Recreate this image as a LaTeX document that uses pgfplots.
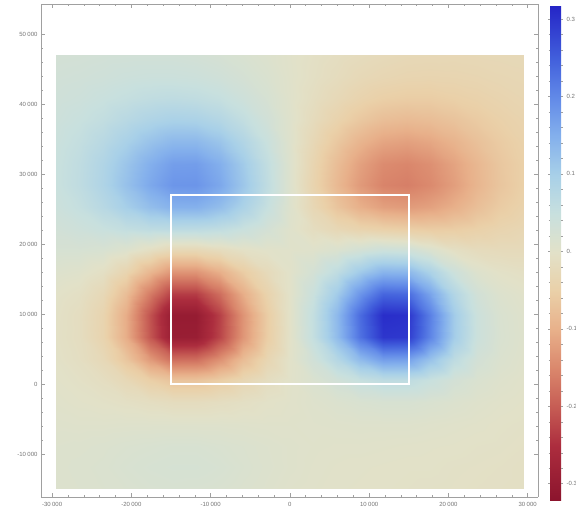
\documentclass[border=0pt]{standalone}
\usepackage{pgfplots}
\pgfplotsset{compat=1.18}
\usepackage{fontspec}
\setmainfont{Liberation Sans}
\definecolor{framegray}{RGB}{160,160,160}
\definecolor{labgray}{RGB}{115,115,115}
\newcommand{\ts}{\kern1.4pt}
\pgfplotsset{colormap={thermo}{
  rgb255(0pt)=(140,20,45); rgb255(7pt)=(172,45,62); rgb255(12pt)=(198,92,84);
  rgb255(17pt)=(218,135,108); rgb255(22pt)=(232,176,138); rgb255(27pt)=(234,208,168);
  rgb255(32pt)=(226,225,200); rgb255(37pt)=(200,224,222); rgb255(42pt)=(168,208,232);
  rgb255(47pt)=(132,176,236); rgb255(52pt)=(98,138,232); rgb255(57pt)=(66,96,220);
  rgb255(64pt)=(36,36,198)}}
\begin{document}
\begin{tikzpicture}
\begin{axis}[
  at={(41pt,17pt)}, anchor=south west,
  scale only axis, width=497pt, height=493pt,
  view={0}{90},
  xmin=-31400, xmax=31300, ymin=-16150, ymax=54300,
  scaled ticks=false,
  xtick={-30000,-20000,-10000,0,10000,20000,30000},
  xticklabels={-30\ts000,-20\ts000,-10\ts000,0,10\ts000,20\ts000,30\ts000},
  ytick={-10000,0,10000,20000,30000,40000,50000},
  yticklabels={-10\ts000,0,10\ts000,20\ts000,30\ts000,40\ts000,50\ts000},
  ztick=\empty, hide z axis,
  minor x tick num=4, minor y tick num=4,
  tick align=inside, xtick pos=both, ytick pos=both,
  major tick length=4pt, minor tick length=2pt,
  axis line style={framegray, line width=0.6pt},
  tick style={framegray, line width=0.5pt},
  ticklabel style={font=\fontsize{6}{7}\selectfont, text=labgray},
  xticklabel style={yshift=-2pt},
  colormap name=thermo,
  point meta min=-0.321, point meta max=0.318,
  colorbar,
  colorbar style={
    at={(parent axis.north east)}, anchor=north west,
    xshift=3.5pt, yshift=-1pt,
    scale only axis, width=11pt, height=495pt,
    scaled ticks=false,
    ytick={-0.3,-0.2,-0.1,0,0.1,0.2,0.3},
    yticklabels={-0.3,-0.2,-0.1,0.,0.1,0.2,0.3},
    minor y tick num=4,
    tick align=outside,
    major tick length=2pt, minor tick length=1.5pt,
    axis line style={draw=none},
    tick style={framegray, line width=0.5pt},
    yticklabel style={font=\fontsize{6}{7}\selectfont, text=labgray, anchor=west, inner sep=0pt, xshift=3.5pt},
  },
]
\addplot3[surf, shader=interp, mesh/cols=21] coordinates {
(-29500,-15000,0.010) (-26550,-15000,0.011) (-23600,-15000,0.013) (-20650,-15000,0.015) (-17700,-15000,0.018) (-14750,-15000,0.019) (-11800,-15000,0.018) (-8850,-15000,0.016) (-5900,-15000,0.012) (-2950,-15000,0.008) (0,-15000,0.004) (2950,-15000,0.002) (5900,-15000,0.000) (8850,-15000,-0.001) (11800,-15000,-0.002) (14750,-15000,-0.003) (17700,-15000,-0.004) (20650,-15000,-0.005) (23600,-15000,-0.006) (26550,-15000,-0.007) (29500,-15000,-0.008)
(-29500,-11900,0.010) (-26550,-11900,0.012) (-23600,-11900,0.014) (-20650,-11900,0.018) (-17700,-11900,0.021) (-14750,-11900,0.023) (-11800,-11900,0.023) (-8850,-11900,0.020) (-5900,-11900,0.015) (-2950,-11900,0.010) (0,-11900,0.006) (2950,-11900,0.003) (5900,-11900,0.001) (8850,-11900,0.000) (11800,-11900,-0.001) (14750,-11900,-0.002) (17700,-11900,-0.002) (20650,-11900,-0.004) (23600,-11900,-0.005) (26550,-11900,-0.006) (29500,-11900,-0.008)
(-29500,-8800,0.009) (-26550,-8800,0.010) (-23600,-8800,0.012) (-20650,-8800,0.015) (-17700,-8800,0.017) (-14750,-8800,0.019) (-11800,-8800,0.019) (-8850,-8800,0.016) (-5900,-8800,0.013) (-2950,-8800,0.009) (0,-8800,0.006) (2950,-8800,0.004) (5900,-8800,0.003) (8850,-8800,0.003) (11800,-8800,0.002) (14750,-8800,0.001) (17700,-8800,0.000) (20650,-8800,-0.001) (23600,-8800,-0.003) (26550,-8800,-0.004) (29500,-8800,-0.006)
(-29500,-5700,0.006) (-26550,-5700,0.005) (-23600,-5700,0.005) (-20650,-5700,0.006) (-17700,-5700,0.006) (-14750,-5700,0.006) (-11800,-5700,0.006) (-8850,-5700,0.006) (-5900,-5700,0.005) (-2950,-5700,0.004) (0,-5700,0.004) (2950,-5700,0.005) (5900,-5700,0.006) (8850,-5700,0.007) (11800,-5700,0.007) (14750,-5700,0.007) (17700,-5700,0.005) (20650,-5700,0.003) (23600,-5700,0.001) (26550,-5700,-0.002) (29500,-5700,-0.004)
(-29500,-2600,0.003) (-26550,-2600,0.000) (-23600,-2600,-0.003) (-20650,-2600,-0.007) (-17700,-2600,-0.012) (-14750,-2600,-0.017) (-11800,-2600,-0.017) (-8850,-2600,-0.013) (-5900,-2600,-0.008) (-2950,-2600,-0.002) (0,-2600,0.002) (2950,-2600,0.007) (5900,-2600,0.012) (8850,-2600,0.017) (11800,-2600,0.020) (14750,-2600,0.020) (17700,-2600,0.016) (20650,-2600,0.011) (23600,-2600,0.006) (26550,-2600,0.002) (29500,-2600,-0.001)
(-29500,500,0.000) (-26550,500,-0.005) (-23600,500,-0.013) (-20650,500,-0.029) (-17700,500,-0.053) (-14750,500,-0.072) (-11800,500,-0.072) (-8850,500,-0.056) (-5900,500,-0.034) (-2950,500,-0.014) (0,500,0.001) (2950,500,0.015) (5900,500,0.032) (8850,500,0.051) (11800,500,0.064) (14750,500,0.064) (17700,500,0.048) (20650,500,0.028) (23600,500,0.015) (26550,500,0.007) (29500,500,0.002)
(-29500,3600,-0.003) (-26550,3600,-0.011) (-23600,3600,-0.028) (-20650,3600,-0.068) (-17700,3600,-0.130) (-14750,3600,-0.183) (-11800,3600,-0.182) (-8850,3600,-0.140) (-5900,3600,-0.083) (-2950,3600,-0.036) (0,3600,0.000) (2950,3600,0.033) (5900,3600,0.079) (8850,3600,0.134) (11800,3600,0.174) (14750,3600,0.172) (17700,3600,0.122) (20650,3600,0.065) (23600,3600,0.029) (26550,3600,0.013) (29500,3600,0.005)
(-29500,6700,-0.005) (-26550,6700,-0.014) (-23600,6700,-0.041) (-20650,6700,-0.104) (-17700,6700,-0.207) (-14750,6700,-0.294) (-11800,6700,-0.293) (-8850,6700,-0.225) (-5900,6700,-0.133) (-2950,6700,-0.056) (0,6700,-0.001) (2950,6700,0.054) (5900,6700,0.131) (8850,6700,0.227) (11800,6700,0.297) (14750,6700,0.294) (17700,6700,0.205) (20650,6700,0.104) (23600,6700,0.042) (26550,6700,0.017) (29500,6700,0.007)
(-29500,9800,-0.004) (-26550,9800,-0.014) (-23600,9800,-0.040) (-20650,9800,-0.105) (-17700,9800,-0.211) (-14750,9800,-0.300) (-11800,9800,-0.300) (-8850,9800,-0.230) (-5900,9800,-0.136) (-2950,9800,-0.057) (0,9800,-0.001) (2950,9800,0.055) (5900,9800,0.135) (8850,9800,0.234) (11800,9800,0.307) (14750,9800,0.303) (17700,9800,0.211) (20650,9800,0.106) (23600,9800,0.042) (26550,9800,0.016) (29500,9800,0.006)
(-29500,12900,-0.001) (-26550,12900,-0.008) (-23600,12900,-0.029) (-20650,12900,-0.081) (-17700,12900,-0.165) (-14750,12900,-0.235) (-11800,12900,-0.235) (-8850,12900,-0.180) (-5900,12900,-0.105) (-2950,12900,-0.044) (0,12900,0.000) (2950,12900,0.044) (5900,12900,0.106) (8850,12900,0.184) (11800,12900,0.242) (14750,12900,0.238) (17700,12900,0.165) (20650,12900,0.082) (23600,12900,0.031) (26550,12900,0.010) (29500,12900,0.002)
(-29500,16000,0.009) (-26550,16000,0.005) (-23600,16000,-0.008) (-20650,16000,-0.039) (-17700,16000,-0.091) (-14750,16000,-0.135) (-11800,16000,-0.135) (-8850,16000,-0.102) (-5900,16000,-0.058) (-2950,16000,-0.023) (0,16000,0.001) (2950,16000,0.026) (5900,16000,0.062) (8850,16000,0.108) (11800,16000,0.142) (14750,16000,0.139) (17700,16000,0.093) (20650,16000,0.040) (23600,16000,0.009) (26550,16000,-0.003) (29500,16000,-0.008)
(-29500,19100,0.022) (-26550,19100,0.022) (-23600,19100,0.019) (-20650,19100,0.009) (-17700,19100,-0.011) (-14750,19100,-0.030) (-11800,19100,-0.031) (-8850,19100,-0.019) (-5900,19100,-0.006) (-2950,19100,0.001) (0,19100,0.003) (2950,19100,0.005) (5900,19100,0.014) (8850,19100,0.029) (11800,19100,0.041) (14750,19100,0.037) (17700,19100,0.015) (20650,19100,-0.008) (23600,19100,-0.019) (26550,19100,-0.022) (29500,19100,-0.022)
(-29500,22200,0.031) (-26550,22200,0.038) (-23600,22200,0.047) (-20650,22200,0.057) (-17700,22200,0.064) (-14750,22200,0.067) (-11800,22200,0.066) (-8850,22200,0.060) (-5900,22200,0.046) (-2950,22200,0.027) (0,22200,0.005) (2950,22200,-0.015) (5900,22200,-0.031) (8850,22200,-0.042) (11800,22200,-0.049) (14750,22200,-0.054) (17700,22200,-0.058) (20650,22200,-0.056) (23600,22200,-0.049) (26550,22200,-0.040) (29500,22200,-0.033)
(-29500,25300,0.041) (-26550,25300,0.053) (-23600,25300,0.074) (-20650,25300,0.100) (-17700,25300,0.127) (-14750,25300,0.146) (-11800,25300,0.147) (-8850,25300,0.127) (-5900,25300,0.092) (-2950,25300,0.051) (0,25300,0.008) (2950,25300,-0.032) (5900,25300,-0.070) (8850,25300,-0.101) (11800,25300,-0.121) (14750,25300,-0.127) (17700,25300,-0.119) (20650,25300,-0.101) (23600,25300,-0.078) (26550,25300,-0.058) (29500,25300,-0.044)
(-29500,28400,0.046) (-26550,28400,0.062) (-23600,28400,0.087) (-20650,28400,0.122) (-17700,28400,0.158) (-14750,28400,0.183) (-11800,28400,0.184) (-8850,28400,0.159) (-5900,28400,0.114) (-2950,28400,0.062) (0,28400,0.009) (2950,28400,-0.041) (5900,28400,-0.088) (8850,28400,-0.128) (11800,28400,-0.155) (14750,28400,-0.161) (17700,28400,-0.148) (20650,28400,-0.123) (23600,28400,-0.093) (26550,28400,-0.068) (29500,28400,-0.050)
(-29500,31500,0.046) (-26550,31500,0.061) (-23600,31500,0.085) (-20650,31500,0.116) (-17700,31500,0.149) (-14750,31500,0.172) (-11800,31500,0.173) (-8850,31500,0.149) (-5900,31500,0.107) (-2950,31500,0.058) (0,31500,0.009) (2950,31500,-0.038) (5900,31500,-0.082) (8850,31500,-0.120) (11800,31500,-0.146) (14750,31500,-0.152) (17700,31500,-0.141) (20650,31500,-0.117) (23600,31500,-0.090) (26550,31500,-0.066) (29500,31500,-0.050)
(-29500,34600,0.043) (-26550,34600,0.055) (-23600,34600,0.073) (-20650,34600,0.096) (-17700,34600,0.120) (-14750,34600,0.136) (-11800,34600,0.136) (-8850,34600,0.117) (-5900,34600,0.084) (-2950,34600,0.046) (0,34600,0.007) (2950,34600,-0.030) (5900,34600,-0.065) (8850,34600,-0.095) (11800,34600,-0.115) (14750,34600,-0.121) (17700,34600,-0.113) (20650,34600,-0.096) (23600,34600,-0.076) (26550,34600,-0.059) (29500,34600,-0.046)
(-29500,37700,0.039) (-26550,37700,0.047) (-23600,37700,0.058) (-20650,37700,0.073) (-17700,37700,0.087) (-14750,37700,0.095) (-11800,37700,0.093) (-8850,37700,0.080) (-5900,37700,0.058) (-2950,37700,0.032) (0,37700,0.006) (2950,37700,-0.020) (5900,37700,-0.044) (8850,37700,-0.065) (11800,37700,-0.080) (14750,37700,-0.085) (17700,37700,-0.081) (20650,37700,-0.072) (23600,37700,-0.060) (26550,37700,-0.049) (29500,37700,-0.041)
(-29500,40800,0.035) (-26550,40800,0.039) (-23600,40800,0.046) (-20650,40800,0.053) (-17700,40800,0.060) (-14750,40800,0.063) (-11800,40800,0.060) (-8850,40800,0.052) (-5900,40800,0.038) (-2950,40800,0.022) (0,40800,0.004) (2950,40800,-0.013) (5900,40800,-0.028) (8850,40800,-0.042) (11800,40800,-0.052) (14750,40800,-0.056) (17700,40800,-0.056) (20650,40800,-0.051) (23600,40800,-0.046) (26550,40800,-0.040) (29500,40800,-0.035)
(-29500,43900,0.031) (-26550,43900,0.033) (-23600,43900,0.036) (-20650,43900,0.040) (-17700,43900,0.042) (-14750,43900,0.042) (-11800,43900,0.040) (-8850,43900,0.034) (-5900,43900,0.025) (-2950,43900,0.015) (0,43900,0.003) (2950,43900,-0.008) (5900,43900,-0.018) (8850,43900,-0.028) (11800,43900,-0.034) (14750,43900,-0.038) (17700,43900,-0.039) (20650,43900,-0.038) (23600,43900,-0.036) (26550,43900,-0.033) (29500,43900,-0.031)
(-29500,47000,0.027) (-26550,47000,0.028) (-23600,47000,0.030) (-20650,47000,0.031) (-17700,47000,0.031) (-14750,47000,0.031) (-11800,47000,0.028) (-8850,47000,0.023) (-5900,47000,0.017) (-2950,47000,0.010) (0,47000,0.002) (2950,47000,-0.006) (5900,47000,-0.013) (8850,47000,-0.019) (11800,47000,-0.024) (14750,47000,-0.028) (17700,47000,-0.029) (20650,47000,-0.030) (23600,47000,-0.029) (26550,47000,-0.028) (29500,47000,-0.027)
};
\addplot3[white, line width=1.5pt, no marks, line cap=rect] coordinates {
(-15000,0,0.35) (15000,0,0.35) (15000,27000,0.35) (-15000,27000,0.35) (-15000,0,0.35)
};
\end{axis}
\pgfresetboundingbox
\useasboundingbox (0,0) rectangle (576pt,514pt);
\end{tikzpicture}
\end{document}
